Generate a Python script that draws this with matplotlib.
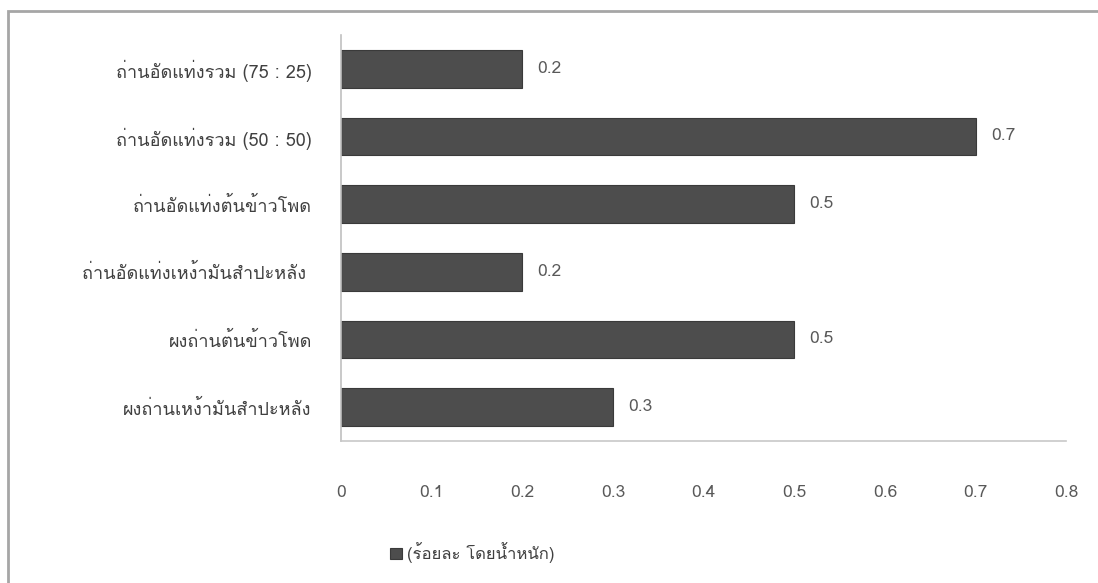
import matplotlib
matplotlib.use("Agg")
import matplotlib.pyplot as plt
from matplotlib import font_manager
from matplotlib.ft2font import FT2Font

# categories top to bottom, values in percent by weight
labels = [
    "ถ่านอัดแท่งรวม (75 : 25)",
    "ถ่านอัดแท่งรวม (50 : 50)",
    "ถ่านอัดแท่งต้นข้าวโพด",
    "ถ่านอัดแท่งเหง้ามันสำปะหลัง ",
    "ผงถ่านต้นข้าวโพด",
    "ผงถ่านเหง้ามันสำปะหลัง",
]
values = [0.2, 0.7, 0.5, 0.2, 0.5, 0.3]
xticks = [0, 0.1, 0.2, 0.3, 0.4, 0.5, 0.6, 0.7, 0.8]
legend_label = "(ร้อยละ โดยน้ำหนัก)"

# find a font that has Thai glyphs
thai_font = None
for f in font_manager.fontManager.ttflist:
    try:
        if 0x0E01 in FT2Font(f.fname).get_charmap():
            thai_font = f.name
            break
    except Exception:
        pass
families = ([thai_font] if thai_font else []) + ["DejaVu Sans"]
plt.rcParams["font.family"] = families

fig = plt.figure(figsize=(10.98, 5.83), dpi=100)
ax = fig.add_axes([0.3106, 0.2436, 0.971 - 0.3106, 0.94 - 0.2436])

y = list(range(len(labels)))
bars = ax.barh(y, values, height=0.56, color="#4d4d4d", edgecolor="#3a3a3a",
               linewidth=0.8, label=legend_label)
for yi, v in zip(y, values):
    ax.text(v + 0.017, yi, f"{v:g}", va="center", ha="left",
            fontsize=12.5, color="#595959")

ax.set_ylim(len(labels) - 0.5, -0.5)
ax.set_xlim(0, 0.8)
ax.set_xticks(xticks)
ax.set_xticklabels([f"{t:g}" for t in xticks])
ax.set_yticks(y)
ax.set_yticklabels(labels)
ax.tick_params(axis="x", length=0, pad=32, labelsize=12.5, labelcolor="#595959")
ax.tick_params(axis="y", length=0, pad=21, labelsize=13, labelcolor="#404040")

for s in ("top", "right"):
    ax.spines[s].set_visible(False)
ax.spines["left"].set_color("#c0c0c0")
ax.spines["bottom"].set_color("#c8c8c8")
ax.spines["left"].set_linewidth(1.2)
ax.spines["bottom"].set_linewidth(1.2)

fig.legend(handles=[bars], labels=[legend_label], loc="center",
           bbox_to_anchor=(0.43, 0.052), frameon=False, fontsize=12,
           handlelength=0.7, handleheight=0.7, handletextpad=0.3,
           labelcolor="#404040")

# outer frame of the chart area
frame = plt.Rectangle((0.007, -0.05), 1.1, 1.031, transform=fig.transFigure,
                      fill=False, edgecolor="#a6a6a6", linewidth=2)
fig.patches.append(frame)

fig.savefig("out.png", dpi=100)
